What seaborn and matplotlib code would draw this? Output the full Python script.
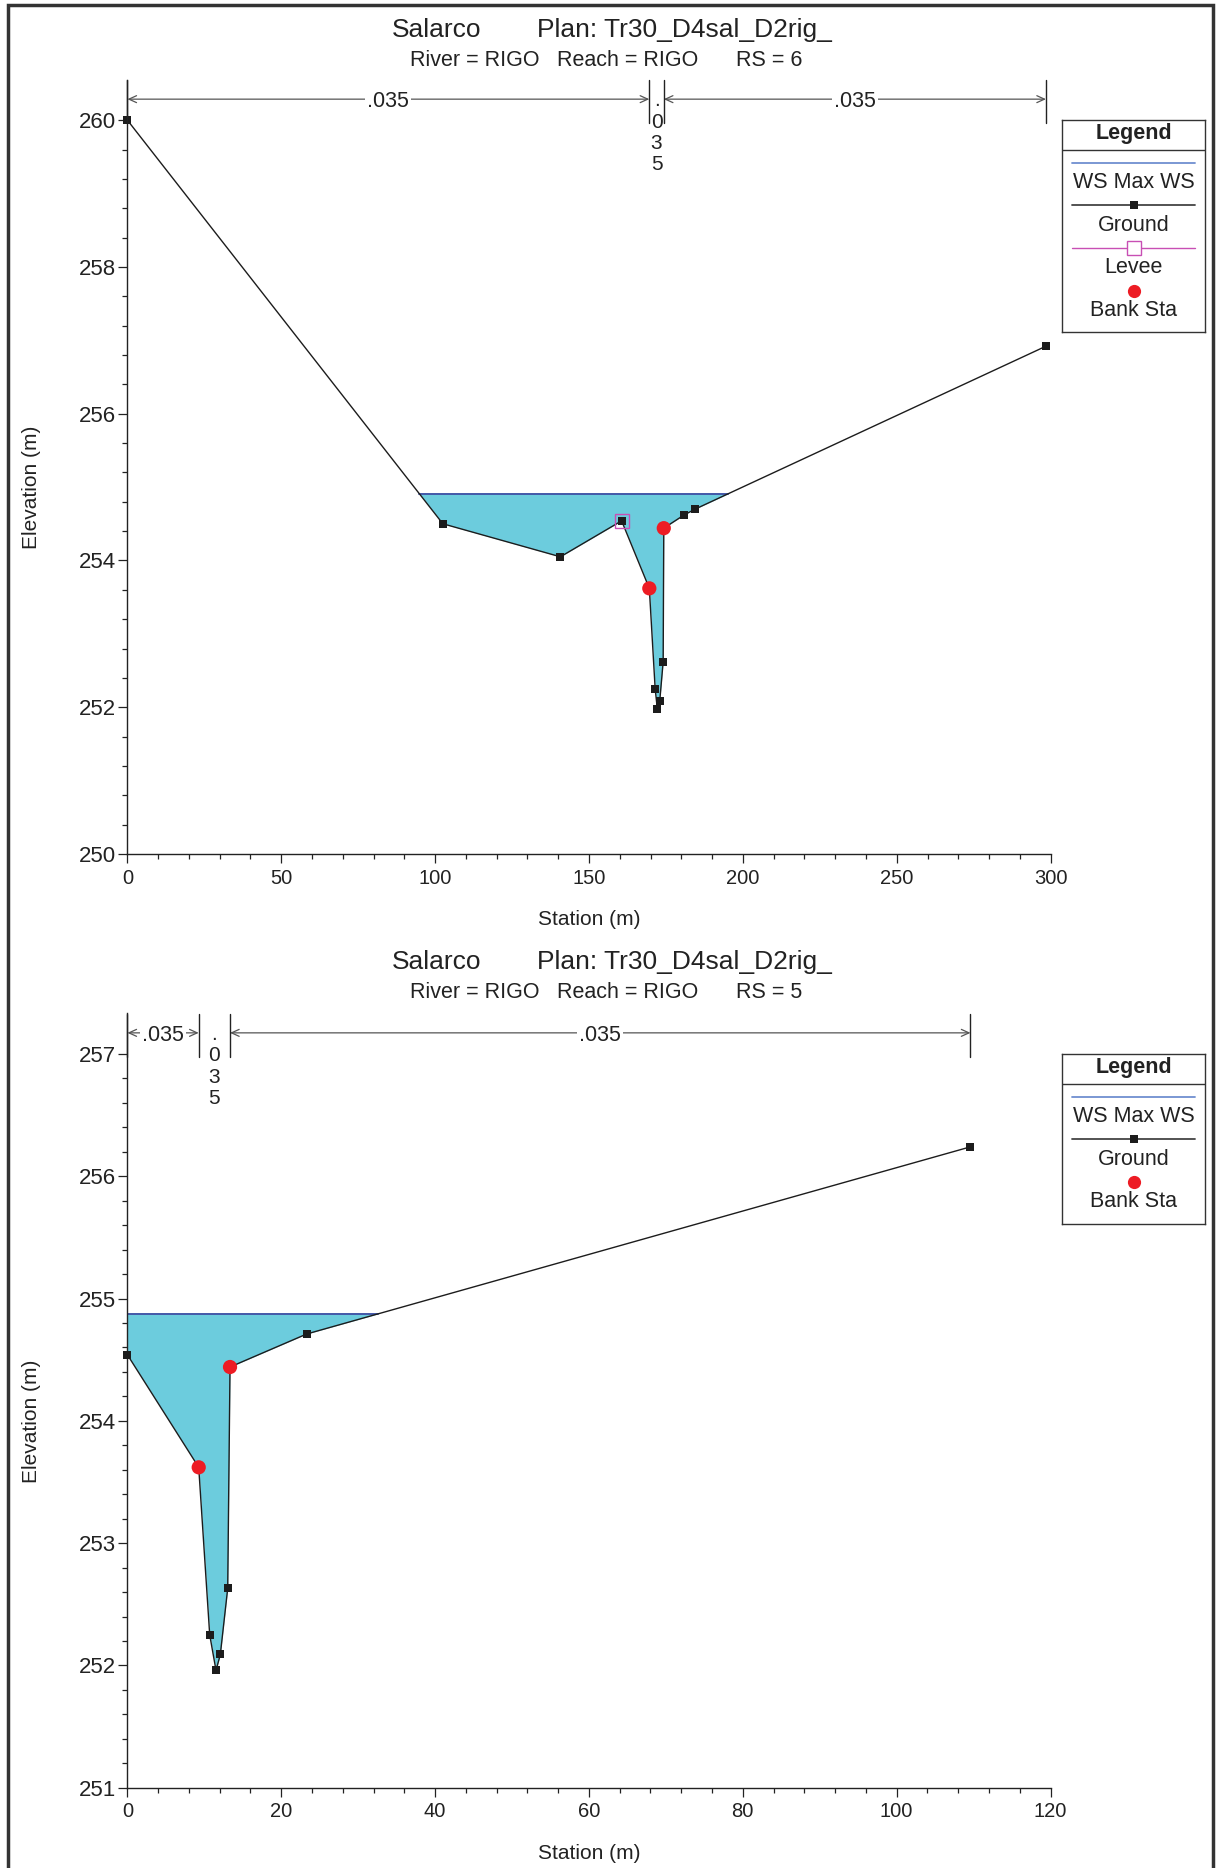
import numpy as np
import matplotlib
matplotlib.use("Agg")
import matplotlib.pyplot as plt
import matplotlib.transforms as mtransforms
from matplotlib.patches import Rectangle
from matplotlib.ticker import MultipleLocator, FixedLocator
import seaborn as sns

# ---- RS = 6 cross section ----
rs6_station = [0.0, 102.5, 140.7, 160.6, 169.6, 171.5, 172.2, 173.0, 174.1, 174.3, 180.9, 184.5, 298.5]
rs6_elev = [260.00, 254.50, 254.05, 254.54, 253.62, 252.25, 251.98, 252.09, 252.62, 254.44, 254.62, 254.70, 256.92]
rs6_ws = 254.91
rs6_bank = [169.6, 174.3]
rs6_levee_sta = [160.6]
rs6_levee_elev = [254.54]
rs6_n_breaks = [0.0, 169.6, 174.3, 298.5]
rs6_n_vals = [".035", ".035", ".035"]

# ---- RS = 5 cross section ----
rs5_station = [0.0, 9.27, 10.70, 11.52, 12.08, 13.04, 13.34, 23.31, 109.6]
rs5_elev = [254.54, 253.62, 252.25, 251.96, 252.09, 252.63, 254.44, 254.71, 256.24]
rs5_ws = 254.875
rs5_bank = [9.27, 13.34]
rs5_n_breaks = [0.0, 9.27, 13.34, 109.6]
rs5_n_vals = [".035", ".035", ".035"]

W, H, DPI = 1216, 1868, 100
WATER = "#6cccdd"
WS_C = "#4258a8"
GROUND_C = "#1c1c1c"
BANK_C = "#ed1c24"
LEVEE_C = "#c84fb4"
AX_C = "#222222"
ARROW_C = "#555555"

sns.set_style("ticks")
plt.rcParams["font.family"] = ["Liberation Sans", "DejaVu Sans"]

fig = plt.figure(figsize=(W / DPI, H / DPI), dpi=DPI)


def ws_extent(sta, elev, ws):
    wet = elev < ws
    i0 = int(np.argmax(wet))
    if i0 == 0:
        left = sta[0]
    else:
        left = np.interp(ws, [elev[i0], elev[i0 - 1]], [sta[i0], sta[i0 - 1]])
    i1 = len(wet) - 1 - int(np.argmax(wet[::-1]))
    if i1 == len(wet) - 1:
        right = sta[-1]
    else:
        right = np.interp(ws, [elev[i1], elev[i1 + 1]], [sta[i1], sta[i1 + 1]])
    return left, right


def draw_section(ax, sta, elev, ws, bank, levee_sta=None, levee_elev=None):
    sta = np.asarray(sta)
    elev = np.asarray(elev)
    ax.fill_between(sta, elev, ws, where=elev <= ws, interpolate=True,
                    color=WATER, lw=0, zorder=1)
    left, right = ws_extent(sta, elev, ws)
    sns.lineplot(x=[left, right], y=[ws, ws], ax=ax, color=WS_C, lw=1.4, zorder=2)
    sns.lineplot(x=sta, y=elev, ax=ax, color=GROUND_C, lw=1.0, marker="s",
                 markersize=5.3, markeredgewidth=0, sort=False, estimator=None,
                 zorder=3, clip_on=False)
    if levee_sta:
        ax.plot(levee_sta, levee_elev, ls="none", marker="s", ms=9.5, mfc="none",
                mec=LEVEE_C, mew=1.0, zorder=4)
    bank_elev = np.interp(bank, sta, elev)
    sns.scatterplot(x=bank, y=bank_elev, ax=ax, color=BANK_C, s=105,
                    edgecolor="none", zorder=5)


def draw_n(ax, breaks, vals):
    trans = ax.get_xaxis_transform()
    ay = 0.975
    for b in breaks:
        ax.plot([b, b], [1.0, 0.944], transform=trans, color=AX_C, lw=1.0,
                clip_on=False, zorder=6)
    x0, x1 = ax.get_xlim()
    ppd = ax.get_position().width * W / (x1 - x0)
    for a, b, v in zip(breaks[:-1], breaks[1:], vals):
        mid = (a + b) / 2
        if (b - a) * ppd > 50:
            ax.annotate("", xy=(b, ay), xytext=(a, ay), xycoords=trans, textcoords=trans,
                        arrowprops=dict(arrowstyle="<->,head_length=0.55,head_width=0.25",
                                        color=ARROW_C, lw=0.9, shrinkA=0, shrinkB=0),
                        annotation_clip=False)
            ax.text(mid, ay, v, transform=trans, ha="center", va="center_baseline",
                    fontsize=15.5, color=AX_C, zorder=7,
                    bbox=dict(facecolor="white", edgecolor="none", pad=1.5))
        else:
            ax.text(mid, 0.985, "\n".join(v), transform=trans, ha="center", va="top",
                    fontsize=15, color=AX_C, linespacing=1.15)


def style_axes(ax, xlim, ylim, ytop_tick, xmaj, xmin, ymaj, ymin):
    ax.set_xlim(*xlim)
    ax.set_ylim(*ylim)
    ax.xaxis.set_major_locator(MultipleLocator(xmaj))
    ax.xaxis.set_minor_locator(MultipleLocator(xmin))
    ax.yaxis.set_major_locator(FixedLocator(np.arange(ylim[0], ytop_tick + 1e-6, ymaj)))
    ax.yaxis.set_minor_locator(FixedLocator(np.arange(ylim[0], ytop_tick + 1e-6, ymin)))
    ax.set_xticklabels([f"{int(t)}" for t in ax.get_xticks()])
    ax.set_yticklabels([f"{int(round(t))}" for t in ax.get_yticks()])
    for s in ["top", "right"]:
        ax.spines[s].set_visible(False)
    for s in ["left", "bottom"]:
        ax.spines[s].set_color(AX_C)
        ax.spines[s].set_linewidth(1.0)
    ax.tick_params(which="major", length=6.5, width=0.9, color=AX_C, labelcolor=AX_C)
    ax.tick_params(which="minor", length=3.8, width=0.9, color=AX_C)
    ax.tick_params(axis="y", labelsize=16, pad=1.5)
    ax.tick_params(axis="x", labelsize=14.5, pad=4)
    ax.set_xlabel("")
    ax.set_ylabel("")
    ax.text(0.5, -0.0846, "Station (m)", transform=ax.transAxes, ha="center", va="center",
            fontsize=15, color=AX_C)
    blend = mtransforms.blended_transform_factory(ax.transAxes, ax.transData)
    ax.text(-0.1044, (ylim[0] + ytop_tick) / 2, "Elevation (m)", transform=blend,
            rotation=90, ha="center", va="center", fontsize=15, color=AX_C)


def draw_titles(y_title, y_sub, rs):
    fig.text(437 / W, 1 - y_title / H, "Salarco", ha="center", va="center", fontsize=19, color=AX_C)
    fig.text(684 / W, 1 - y_title / H, "Plan: Tr30_D4sal_D2rig_", ha="center", va="center",
             fontsize=19, color=AX_C)
    fig.text(475 / W, 1 - y_sub / H, "River = RIGO", ha="center", va="center", fontsize=15.5, color=AX_C)
    fig.text(628 / W, 1 - y_sub / H, "Reach = RIGO", ha="center", va="center", fontsize=15.5, color=AX_C)
    fig.text(769 / W, 1 - y_sub / H, f"RS = {rs}", ha="center", va="center", fontsize=15.5, color=AX_C)


def draw_legend(top_px, entries):
    x0, x1 = 1062, 1205
    h = 30 + 42.6 * len(entries) + 12
    lax = fig.add_axes([x0 / W, 1 - (top_px + h) / H, (x1 - x0) / W, h / H])
    lax.set_xlim(x0, x1)
    lax.set_ylim(top_px + h, top_px)
    lax.set_xticks([])
    lax.set_yticks([])
    lax.set_facecolor("white")
    for sp in lax.spines.values():
        sp.set_visible(True)
        sp.set_color("#333333")
        sp.set_linewidth(1.0)
    cx = (x0 + x1) / 2
    lax.text(cx, top_px + 13.5, "Legend", ha="center", va="center", fontsize=15.5,
             fontweight="bold", color=AX_C)
    lax.plot([x0, x1], [top_px + 30, top_px + 30], color="#333333", lw=1.0)
    for i, (label, kind) in enumerate(entries):
        ys = top_px + 42.7 + i * 42.6
        yt = ys + 20
        if kind == "ws":
            lax.plot([x0 + 10, x1 - 10], [ys, ys], color="#6f8fd0", lw=1.3)
        elif kind == "ground":
            lax.plot([x0 + 10, x1 - 10], [ys, ys], color="#444444", lw=1.3)
            lax.plot([cx], [ys], marker="s", ms=5.5, color=GROUND_C, mew=0)
        elif kind == "levee":
            lax.plot([x0 + 10, x1 - 10], [ys, ys], color=LEVEE_C, lw=1.0)
            lax.plot([cx], [ys], marker="s", ms=9.5, mfc="white", mec=LEVEE_C, mew=1.0)
        elif kind == "bank":
            lax.plot([cx], [ys], marker="o", ms=9.5, color=BANK_C, mew=0)
        lax.text(cx, yt, label, ha="center", va="center", fontsize=15.5, color=AX_C)


# ---- top panel (RS 6) ----
ax1 = fig.add_axes([127.4 / W, 1 - 854 / H, 923.2 / W, (854 - 79.8) / H])
draw_section(ax1, rs6_station, rs6_elev, rs6_ws, rs6_bank, rs6_levee_sta, rs6_levee_elev)
style_axes(ax1, (0, 300), (250, 260.55), 260, 50, 10, 2, 0.4)
draw_n(ax1, rs6_n_breaks, rs6_n_vals)
draw_titles(30, 61, 6)
draw_legend(120, [("WS Max WS", "ws"), ("Ground", "ground"), ("Levee", "levee"), ("Bank Sta", "bank")])

# ---- bottom panel (RS 5) ----
ax2 = fig.add_axes([127.4 / W, 1 - 1787.8 / H, 923.1 / W, (1787.8 - 1013.5) / H])
draw_section(ax2, rs5_station, rs5_elev, rs5_ws, rs5_bank)
style_axes(ax2, (0, 120), (251, 257.33), 257, 20, 4, 1, 0.2)
draw_n(ax2, rs5_n_breaks, rs5_n_vals)
draw_titles(962, 993, 5)
draw_legend(1054, [("WS Max WS", "ws"), ("Ground", "ground"), ("Bank Sta", "bank")])

# outer frame
fig.add_artist(Rectangle((8 / W, -0.02), (1213 - 8) / W, 1 - 5 / H + 0.02, fill=False,
                         lw=2.5, ec="#333333", transform=fig.transFigure, clip_on=False))

fig.savefig("out.png", dpi=DPI)
